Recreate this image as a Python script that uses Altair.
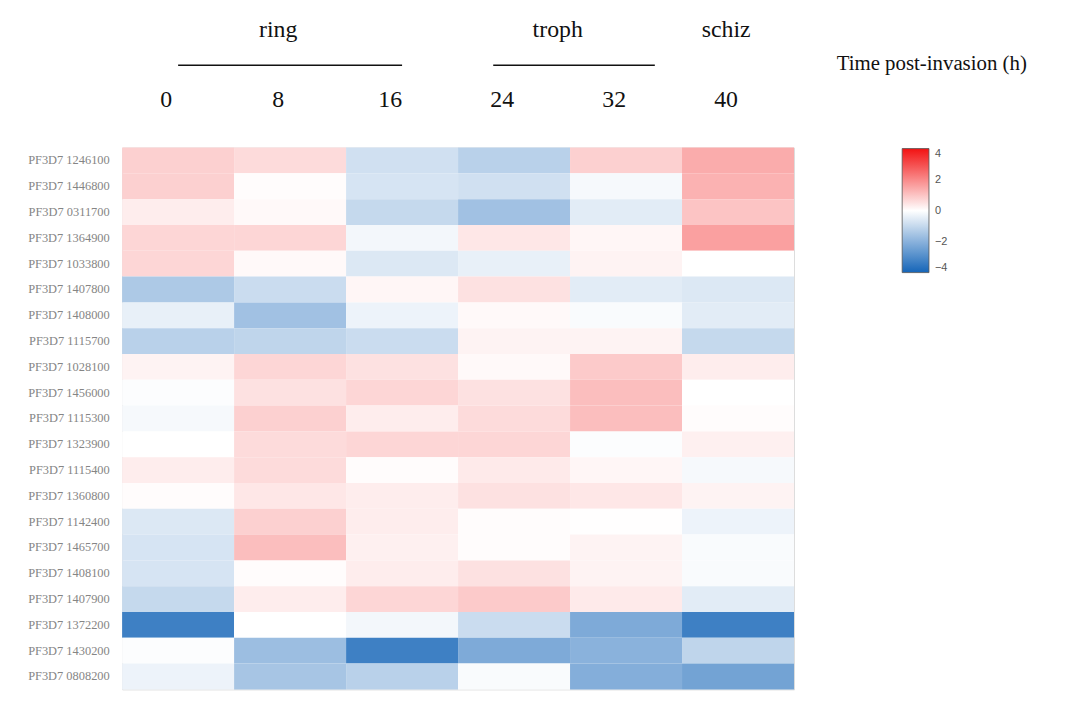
import altair as alt
import pandas as pd

genes = ["PF3D7 1246100", "PF3D7 1446800", "PF3D7 0311700", "PF3D7 1364900",
         "PF3D7 1033800", "PF3D7 1407800", "PF3D7 1408000", "PF3D7 1115700",
         "PF3D7 1028100", "PF3D7 1456000", "PF3D7 1115300", "PF3D7 1323900",
         "PF3D7 1115400", "PF3D7 1360800", "PF3D7 1142400", "PF3D7 1465700",
         "PF3D7 1408100", "PF3D7 1407900", "PF3D7 1372200", "PF3D7 1430200",
         "PF3D7 0808200"]
times = ["0", "8", "16", "24", "32", "40"]

v0 = [0.8, 0.8, 0.3, 0.7, 0.7, -1.4, -0.4, -1.2, 0.2, -0.05, -0.15, 0.0, 0.3, 0.05, -0.6, -0.7, -0.7, -1.0, -3.3, -0.05, -0.3]
v8 = [0.6, 0.05, 0.1, 0.7, 0.1, -0.9, -1.6, -1.1, 0.7, 0.5, 0.8, 0.6, 0.6, 0.4, 0.8, 1.1, 0.05, 0.3, 0.0, -1.7, -1.5]
v16 = [-0.8, -0.7, -1.0, -0.2, -0.6, 0.15, -0.3, -0.9, 0.5, 0.7, 0.3, 0.7, 0.05, 0.3, 0.3, 0.25, 0.3, 0.7, -0.2, -3.3, -1.2]
v24 = [-1.2, -0.8, -1.6, 0.4, -0.4, 0.5, 0.1, 0.2, 0.1, 0.5, 0.6, 0.7, 0.35, 0.5, 0.05, 0.05, 0.5, 0.9, -0.9, -2.2, -0.1]
v32 = [0.8, -0.15, -0.5, 0.15, 0.2, -0.5, -0.1, 0.2, 0.9, 1.1, 1.1, -0.05, 0.15, 0.4, 0.02, 0.2, 0.2, 0.35, -2.2, -2.0, -2.1]
v40 = [1.4, 1.3, 1.0, 1.6, 0.0, -0.6, -0.5, -1.0, 0.3, 0.0, 0.05, 0.25, -0.15, 0.2, -0.3, -0.1, -0.1, -0.5, -3.3, -1.1, -2.4]

stages = ["ring", "troph", "schiz"]
stage_anchor = ["8", "24", "40"]
stage_shift = [-12, 44, -12]
bracket_start = ["0", "24"]
bracket_end = ["16", "32"]
legend_title = "Time post-invasion (h)"

cols = [v0, v8, v16, v24, v32, v40]
rows = []
for t, vals in zip(times, cols):
    for g, v in zip(genes, vals):
        rows.append({"gene": g, "time": t, "value": v})
df = pd.DataFrame(rows)

xscale = alt.Scale(domain=times)
serif = "Liberation Serif"

heat = alt.Chart(df).mark_rect().encode(
    x=alt.X("time:N", scale=xscale, sort=times, axis=None),
    y=alt.Y("gene:N", sort=genes,
            axis=alt.Axis(title=None, labelFont=serif, labelFontSize=12.5,
                          labelColor="#858585", domain=False, ticks=False, labelPadding=13)),
    color=alt.Color("value:Q", title=None,
                    scale=alt.Scale(domain=[-4, 0, 4], range=["#1565b8", "#ffffff", "#f21212"],
                                    interpolate="rgb"),
                    legend=alt.Legend(orient="none", legendX=786, legendY=1, direction="vertical",
                                      gradientLength=125, gradientThickness=27,
                                      values=[4, 2, 0, -2, -4], labelFontSize=11,
                                      labelFont="Liberation Sans", labelColor="#555",
                                      gradientStrokeColor="#555", gradientStrokeWidth=0.8,
                                      labelOffset=6)),
)

layers = [heat]

# column (time) labels along the top
layers.append(
    alt.Chart(pd.DataFrame({"time": times})).mark_text(
        font=serif, fontSize=24, color="#111", dx=-12, baseline="middle"
    ).encode(x=alt.X("time:N", scale=xscale, sort=times, axis=None),
             y=alt.value(-48), text="time:N")
)

for s, a, sh in zip(stages, stage_anchor, stage_shift):
    layers.append(
        alt.Chart(pd.DataFrame({"stage": [s], "anchor": [a]})).mark_text(
            font=serif, fontSize=24, color="#111", dx=sh, baseline="middle"
        ).encode(x=alt.X("anchor:N", scale=xscale, sort=times, axis=None),
                 y=alt.value(-118), text="stage:N")
    )

layers.append(
    alt.Chart(pd.DataFrame({"s": [bracket_start[0]], "e": [bracket_end[0]]})).mark_rule(
        color="#111", strokeWidth=1.6
    ).encode(x=alt.X("s:N", scale=xscale, sort=times, axis=None), x2="e:N", y=alt.value(-83))
)
layers.append(
    alt.Chart(pd.DataFrame({"s": [bracket_start[1]], "e": [bracket_end[1]]})).mark_rule(
        color="#111", strokeWidth=1.6, xOffset=-21, x2Offset=29
    ).encode(x=alt.X("s:N", scale=xscale, sort=times, axis=None), x2="e:N", y=alt.value(-83))
)
layers.append(
    alt.Chart(pd.DataFrame({"t": [legend_title]})).mark_text(
        font=serif, fontSize=21, color="#111", align="left", baseline="middle"
    ).encode(text="t:N", x=alt.value(720), y=alt.value(-84))
)

chart = alt.layer(*layers).properties(
    width=677, height=546,
    padding={"left": 115, "top": 138, "right": 265, "bottom": 4},
    autosize=alt.AutoSizeParams(type="none"),
).configure_view(strokeWidth=0).configure(background="white")

chart.save("out.html", embed_options={"renderer": "svg", "actions": False})
